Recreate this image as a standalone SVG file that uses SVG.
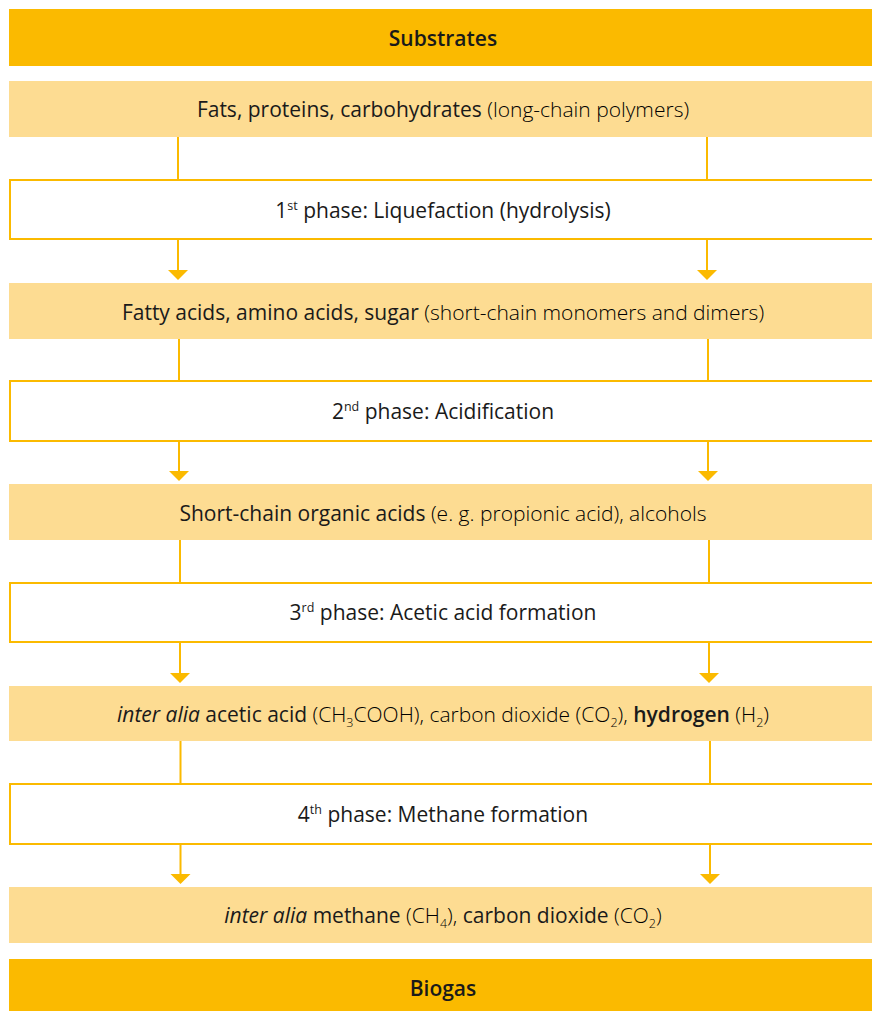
<svg xmlns="http://www.w3.org/2000/svg" width="872" height="1011" viewBox="0 0 872 1011">
<style>
.hdr{fill:#FBBA00}
.row{fill:#FDDC92}
.box{fill:#fff;stroke:#FBBA00;stroke-width:2}
.ln{stroke:#FBBA00;stroke-width:2;fill:none}
.ah{fill:#FBBA00}
text{font-family:"Open Sans","Noto Sans","Liberation Sans",sans-serif;font-size:21px;fill:#1a1a1a;text-anchor:middle}
.b{font-weight:600}
.m{font-weight:500}
.l{font-weight:300;fill:#000}
.i{font-style:italic;font-weight:500}
.s{font-size:12.5px}
</style>
<defs>
<path id="arr" d="M-10,0 L10,0 L0,10 Z" class="ah"/>
</defs>
<rect width="872" height="1011" fill="#fff"/>
<g id="connectors">
<path class="ln" d="M178,137 V180 M707,137 V180 M178,239 V271 M707,239 V271"/>
<use href="#arr" x="178" y="270"/><use href="#arr" x="707" y="270"/>
<path class="ln" d="M179,339 V381 M708,339 V381 M179,441 V472 M708,441 V472"/>
<use href="#arr" x="179" y="471"/><use href="#arr" x="708" y="471"/>
<path class="ln" d="M180,540 V583 M709,540 V583 M180,642 V674 M709,642 V674"/>
<use href="#arr" x="180" y="673"/><use href="#arr" x="709" y="673"/>
<path class="ln" d="M180.5,741 V784 M710,741 V784 M180.5,844 V875 M710,844 V875"/>
<use href="#arr" x="180.5" y="874"/><use href="#arr" x="710" y="874"/>
</g>
<g id="substrates">
<rect class="hdr" x="9" y="9" width="863" height="57"/>
<text x="443" y="46" class="b">Substrates</text>
</g>
<g id="polymers">
<rect class="row" x="9" y="81" width="863" height="56"/>
<text x="443" y="117"><tspan class="m">Fats, proteins, carbohydrates</tspan> <tspan class="l">(long-chain polymers)</tspan></text>
</g>
<g id="phase1">
<path class="box" d="M873,180 H10 V239 H873"/>
<text x="443" y="218">1<tspan class="s" dy="-8">st</tspan><tspan dy="8"> phase: Liquefaction (hydrolysis)</tspan></text>
</g>
<g id="monomers">
<rect class="row" x="9" y="283" width="863" height="56"/>
<text x="443" y="320"><tspan class="m">Fatty acids, amino acids, sugar</tspan> <tspan class="l">(short-chain monomers and dimers)</tspan></text>
</g>
<g id="phase2">
<path class="box" d="M873,381 H10 V441 H873"/>
<text x="443" y="419">2<tspan class="s" dy="-8">nd</tspan><tspan dy="8"> phase: Acidification</tspan></text>
</g>
<g id="acids">
<rect class="row" x="9" y="484" width="863" height="56"/>
<text x="443" y="521"><tspan class="m">Short-chain organic acids</tspan> <tspan class="l">(e. g. propionic acid), alcohols</tspan></text>
</g>
<g id="phase3">
<path class="box" d="M873,583 H10 V642 H873"/>
<text x="443" y="620">3<tspan class="s" dy="-8">rd</tspan><tspan dy="8"> phase: Acetic acid formation</tspan></text>
</g>
<g id="acetic">
<rect class="row" x="9" y="686" width="863" height="55"/>
<text x="443" y="722"><tspan class="i">inter alia</tspan><tspan class="m"> acetic acid </tspan><tspan class="l">(CH</tspan><tspan class="l s" dy="5">3</tspan><tspan class="l" dy="-5">COOH), carbon dioxide (CO</tspan><tspan class="l s" dy="5">2</tspan><tspan class="l" dy="-5">), </tspan><tspan class="b">hydrogen</tspan><tspan class="l"> (H</tspan><tspan class="l s" dy="5">2</tspan><tspan class="l" dy="-5">)</tspan></text>
</g>
<g id="phase4">
<path class="box" d="M873,784 H10 V844 H873"/>
<text x="443" y="822">4<tspan class="s" dy="-8">th</tspan><tspan dy="8"> phase: Methane formation</tspan></text>
</g>
<g id="methane">
<rect class="row" x="9" y="887" width="863" height="56"/>
<text x="443" y="923"><tspan class="i">inter alia</tspan><tspan class="m"> methane </tspan><tspan class="l">(CH</tspan><tspan class="l s" dy="5">4</tspan><tspan class="l" dy="-5">), </tspan><tspan class="m">carbon dioxide </tspan><tspan class="l">(CO</tspan><tspan class="l s" dy="5">2</tspan><tspan class="l" dy="-5">)</tspan></text>
</g>
<g id="biogas">
<rect class="hdr" x="9" y="959" width="863" height="52"/>
<text x="443" y="996" class="b">Biogas</text>
</g>
</svg>
